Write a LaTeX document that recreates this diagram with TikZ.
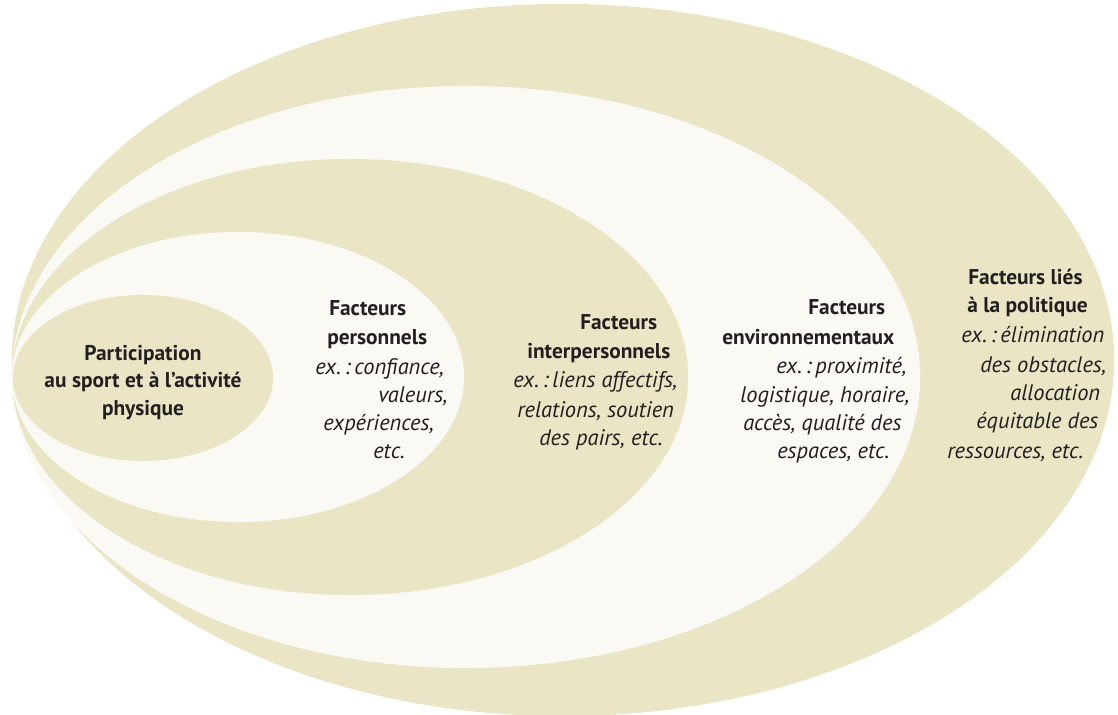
\documentclass[tikz,border=0pt]{standalone}
\usepackage{fontspec}
\setmainfont{PT Sans}
\usepackage{tikz}
\definecolor{sandfill}{RGB}{234,229,196}
\definecolor{creamfill}{RGB}{250,249,244}
\definecolor{inkgray}{RGB}{35,31,32}
\tikzset{
  headline/.style={anchor=base west, inner sep=0pt, text=inkgray,
    font=\fontsize{15.2}{19}\selectfont\bfseries},
  exline/.style={anchor=base west, inner sep=0pt, text=inkgray,
    font=\fontsize{16}{19}\selectfont\itshape},
  midline/.style={anchor=base, inner sep=0pt, text=inkgray,
    font=\fontsize{15.2}{19}\selectfont\bfseries}
}

\begin{document}
\begin{tikzpicture}[x=0.025cm, y=-0.025cm]
  \useasboundingbox (0,0) rectangle (1118,715);

  % nested layers, all touching on the left
  \fill[sandfill]  (563,360) ellipse [x radius=13.775cm, y radius=8.9cm];
  \fill[creamfill] (466,377) ellipse [x radius=11.35cm, y radius=7.275cm];
  \fill[sandfill]  (350,377) ellipse [x radius=8.45cm, y radius=5.45cm];
  \fill[creamfill] (238,377) ellipse [x radius=5.65cm, y radius=3.625cm];
  \fill[sandfill]  (143,378) ellipse [x radius=3.25cm, y radius=2.075cm];

  % centre
  \node[midline] (part1) at (143,360) {Participation};
  \node[midline] (part2) at (143,387) {au sport et à l’activité};
  \node[midline] (part3) at (143,415) {physique};

  % personal factors
  \node[headline] (pers1) at (329,316) {Facteurs};
  \node[headline] (pers2) at (327,345) {personnels};
  \node[exline]   (pers3) at (315,374) {ex.\,:\,confiance,};
  \node[exline]   (pers4) at (378,402) {valeurs,};
  \node[exline]   (pers5) at (323,430) {expériences,};
  \node[exline]   (pers6) at (373,458) {etc.};

  % interpersonal factors
  \node[headline] (inter1) at (580,330) {Facteurs};
  \node[headline] (inter2) at (527,359) {interpersonnels};
  \node[exline]   (inter3) at (513,388) {ex.\,:\,liens affectifs,};
  \node[exline]   (inter4) at (517,417) {relations, soutien};
  \node[exline]   (inter5) at (539,445) {des pairs, etc.};

  % environmental factors
  \node[headline] (env1) at (808,315) {Facteurs};
  \node[headline] (env2) at (722,344) {environnementaux};
  \node[exline]   (env3) at (776,373) {ex.\,:\,proximité,};
  \node[exline]   (env4) at (740,402) {logistique, horaire,};
  \node[exline]   (env5) at (743,430) {accès, qualité des};
  \node[exline]   (env6) at (777,458) {espaces, etc.};

  % policy factors
  \node[headline] (pol1) at (968,285) {Facteurs liés};
  \node[headline] (pol2) at (967,313) {à la politique};
  \node[exline]   (pol3) at (961,342) {ex.\,:\,élimination};
  \node[exline]   (pol4) at (980,372) {des obstacles,};
  \node[exline]   (pol5) at (1010,400) {allocation};
  \node[exline]   (pol6) at (976,428) {équitable des};
  \node[exline]   (pol7) at (947,458) {ressources, etc.};
\end{tikzpicture}
\end{document}
